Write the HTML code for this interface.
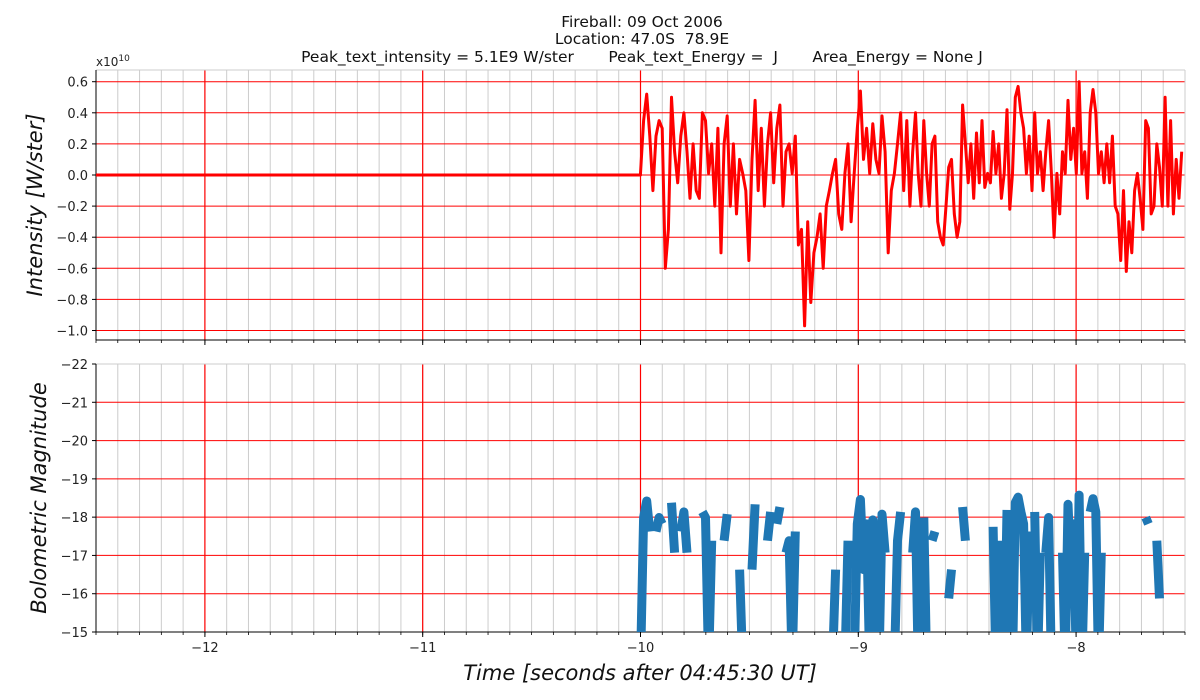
<!DOCTYPE html>
<html><head><meta charset="utf-8"><style>
body{margin:0;background:#fff;}
svg{display:block;font-family:"DejaVu Sans","Liberation Sans",sans-serif;}
</style></head><body>
<svg id="chart" width="1200" height="700"></svg>
<script>
const xTicks=[-12,-11,-10,-9,-8];
const topTicks=[0.6,0.4,0.2,0.0,-0.2,-0.4,-0.6,-0.8,-1.0];
const botTicks=[-22,-21,-20,-19,-18,-17,-16,-15];
const seg1Start=-10, seg1End=-8.763, seg2Start=-8.763, seg2End=-7.515;
const seg1Values=[0.01,0.35,0.52,0.25,-0.1,0.25,0.35,0.3,-0.6,-0.35,0.5,0.15,-0.05,0.25,0.4,0.15,-0.15,0.2,-0.1,-0.15,0.4,0.35,0.01,0.2,-0.2,0.3,-0.5,0.2,0.38,-0.2,0.2,-0.25,0.1,0.01,-0.1,-0.55,0.1,0.48,-0.1,0.3,-0.2,0.2,0.4,-0.05,0.3,0.45,-0.2,0.15,0.2,0.01,0.25,-0.45,-0.35,-0.97,-0.3,-0.82,-0.5,-0.4,-0.25,-0.6,-0.2,-0.1,0.01,0.1,-0.25,-0.35,0.01,0.2,-0.3,0.01,0.3,0.54,0.1,0.3,0.01,0.33,0.1,0.01,0.38,0.15,-0.5,-0.1,0.01,0.2,0.4,-0.1,0.35];
const seg2Values=[-0.2,0.15,0.4,0.01,-0.2,0.35,0.01,-0.2,0.2,0.25,-0.3,-0.4,-0.45,-0.2,0.05,0.1,-0.25,-0.4,-0.3,0.45,0.2,-0.05,0.2,-0.15,0.27,-0.05,0.35,-0.08,0.01,-0.05,0.28,0.01,0.2,-0.15,0.01,0.42,-0.22,0.01,0.5,0.57,0.4,0.3,0.01,0.25,-0.1,0.4,0.01,0.15,-0.1,0.15,0.35,0.01,-0.4,0.01,-0.25,0.15,0.01,0.48,0.1,0.3,0.01,0.6,0.01,0.15,-0.15,0.4,0.55,0.4,0.01,0.15,-0.05,0.2,-0.05,0.25,-0.2,-0.25,-0.55,-0.1,-0.62,-0.3,-0.5,-0.1,0.01,-0.15,-0.35,0.35,0.3,-0.25,-0.2,0.2,0.05,-0.2,0.5,-0.2,0.35,-0.25,0.1,-0.15,0.15];
const peakIntensity=0.51, peakMag=-18.4;

const NS="http://www.w3.org/2000/svg", svg=document.getElementById('chart');
const L=96,R=1185,T1=70,B1=340,T2=364,B2=632;
const X=t=>L+(t+12.5)/5*(R-L);
const Y1=v=>175-v*155.5;
const Y2=m=>T2+(m+22)/7*(B2-T2);
const fmtNum=(v,d)=>(v<0?'\u2212':'')+Math.abs(v).toFixed(d);
function el(tag,a,parent){const e=document.createElementNS(NS,tag);for(const k in a)e.setAttribute(k,a[k]);(parent||svg).appendChild(e);return e;}
function txt(s,a,parent){const e=el('text',a,parent);e.textContent=s;return e;}
const defs=el('defs',{});
const c1=el('clipPath',{id:'c1'},defs);el('rect',{x:L,y:T1,width:R-L,height:B1-T1},c1);
const c2=el('clipPath',{id:'c2'},defs);el('rect',{x:L,y:T2,width:R-L,height:B2-T2},c2);

const pts=[];
seg1Values.forEach((v,i)=>pts.push([seg1Start+(seg1End-seg1Start)*i/seg1Values.length,v]));
seg2Values.forEach((v,i)=>pts.push([seg2Start+(seg2End-seg2Start)*i/(seg2Values.length-1),v]));

function panel(top,bot,Y,ticks,fmt,name){
  const g=el('g',{});
  
  
  for(let t=-12.5;t<=-7.5+1e-9;t+=0.1){
    const x=X(t);el('line',{x1:x,x2:x,y1:top,y2:bot,stroke:'#cccccc','stroke-width':1},g);
  }
  ticks.forEach(v=>{const y=Y(v);el('line',{x1:L,x2:R,y1:y,y2:y,stroke:'#ff0000','stroke-width':1},g);
    el('line',{x1:L-4,x2:L,y1:y,y2:y,stroke:'#000'},g);
    const lab=txt(fmt(v),{x:L-8,y:y+5,'text-anchor':'end','font-size':13,fill:'#222'},g);
    });
  xTicks.forEach(t=>{const x=X(t);el('line',{x1:x,x2:x,y1:top,y2:bot,stroke:'#ff0000','stroke-width':1.2},g);
    el('line',{x1:x,x2:x,y1:bot,y2:bot+5,stroke:'#000'},g);});
  for(let t=-12.5;t<=-7.5+1e-9;t+=0.1){const x=X(t);el('line',{x1:x,x2:x,y1:bot,y2:bot+3,stroke:'#000','stroke-width':0.8},g);}
  el('line',{x1:L,x2:R,y1:top,y2:top,stroke:'#cccccc'},g);
  el('line',{x1:R,x2:R,y1:top,y2:bot,stroke:'#cccccc'},g);
  el('line',{x1:L,x2:L,y1:top,y2:bot,stroke:'#000'},g);
  el('line',{x1:L,x2:R,y1:bot,y2:bot,stroke:'#000'},g);
  return g;
}
panel(T1,B1,Y1,topTicks,v=>fmtNum(v,1),'intensity-panel');
panel(T2,B2,Y2,botTicks,v=>fmtNum(v,0),'magnitude-panel');

let d='M'+X(-12.5)+','+Y1(0)+' L'+X(-10)+','+Y1(0);
pts.forEach(p=>d+=' L'+X(p[0]).toFixed(1)+','+Y1(p[1]).toFixed(1));
const il=el('path',{d:d,fill:'none',stroke:'#ff0000','stroke-width':3,'stroke-linejoin':'round','clip-path':'url(#c1)'});



let md='',pen=false;
pts.forEach(p=>{
  if(p[1]>0){const m=peakMag-2.5*Math.log10(p[1]/peakIntensity);
    md+=(pen?' L':' M')+X(p[0]).toFixed(1)+','+Y2(m).toFixed(1);pen=true;}
  else pen=false;});
const ml=el('path',{d:md,fill:'none',stroke:'#1f77b4','stroke-width':9,'stroke-linecap':'butt','stroke-linejoin':'round','clip-path':'url(#c2)'});



xTicks.forEach(t=>{const e=txt(fmtNum(t,0),{x:X(t),y:B2+20,'text-anchor':'middle','font-size':13,fill:'#222'});
  });

const ti=[['Fireball: 09 Oct 2006',27],['Location: 47.0S  78.9E',44],['Peak_text_intensity = 5.1E9 W/ster       Peak_text_Energy =  J       Area_Energy = None J',62]];
ti.forEach(a=>{const e=txt(a[0],{x:642,y:a[1],'text-anchor':'middle','font-size':15.5,fill:'#111'});
  e.setAttribute('style','white-space:pre');
  });
const ex=txt('x10',{x:96,y:66,'font-size':12,fill:'#222'});

const ts=el('tspan',{dy:-5,'font-size':9},ex);ts.textContent='10';
const yl1=txt('Intensity [W/ster]',{x:0,y:0,transform:'translate(42,205) rotate(-90)','text-anchor':'middle','font-size':21,'font-style':'italic',fill:'#111'});

const yl2=txt('Bolometric Magnitude',{x:0,y:0,transform:'translate(46,498) rotate(-90)','text-anchor':'middle','font-size':21,'font-style':'italic',fill:'#111'});

const xl=txt('Time [seconds after 04:45:30 UT]',{x:640,y:680,'text-anchor':'middle','font-size':21,'font-style':'italic',fill:'#111'});

</script>
</body></html>
